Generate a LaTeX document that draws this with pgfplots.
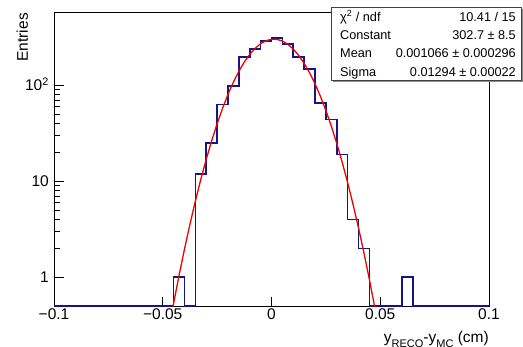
\documentclass[border=0pt]{standalone}
\usepackage{pgfplots}
\pgfplotsset{compat=1.18}
\usepackage{fontspec}
\setmainfont{Liberation Sans}
\definecolor{histblue}{RGB}{20,20,135}
\definecolor{fitred}{RGB}{240,0,0}
\newcommand\sub[1]{\raisebox{-5.5pt}{\fontsize{11}{11}\selectfont #1}}
\begin{document}
\begin{tikzpicture}[x=1pt,y=1pt]
\useasboundingbox (0,0) rectangle (523,346);
\clip (0,0) rectangle (523,346);
\begin{axis}[
  at={(54pt,39.3pt)}, anchor=south west, scale only axis,
  width=435pt, height=294.7pt,
  xmin=-0.1, xmax=0.1, ymode=log, ymin=0.494, ymax=580,
  xtick={-0.1,-0.05,0,0.05,0.1},
  xticklabels={−0.1,−0.05,0,0.05,0.1},
  ytick={1,10,100},
  yticklabels={1,10,{10\textsuperscript{2}}},
  minor x tick num=0,
  tick align=inside, xtick pos=bottom, ytick pos=left,
  major tick length=10pt, minor tick length=5.5pt,
  axis line style={line width=1pt},
  tick style={black, line width=0.8pt},
  ticklabel style={font=\fontsize{15.5}{15.5}\selectfont},
  xticklabel style={anchor=north, inner sep=0pt, yshift=-2pt},
  yticklabel style={anchor=base east, inner sep=0pt, xshift=-5pt, yshift=-5.5pt},
]
\addplot[const plot mark left, histblue, line width=1.7pt] coordinates {
  (-0.100,0.5) (-0.045,1) (-0.040,0.5) (-0.035,12) (-0.030,25) (-0.025,63)
  (-0.020,98) (-0.015,196) (-0.010,239) (-0.005,289) (0.000,309) (0.005,269)
  (0.010,198) (0.015,147) (0.020,65) (0.025,44) (0.030,19) (0.035,4)
  (0.040,2) (0.045,0.5) (0.060,1) (0.065,0.5) (0.100,0.5)
};
\addplot[fitred, line width=1.3pt] coordinates {
  (-0.05,0.1257) (-0.0475,0.2643) (-0.045,0.5357) (-0.0425,1.046) (-0.04,1.967)
  (-0.0375,3.566) (-0.035,6.224) (-0.0325,10.47) (-0.03,16.96) (-0.0275,26.47)
  (-0.025,39.80) (-0.0225,57.65) (-0.02,80.44) (-0.0175,108.14) (-0.015,140.04)
  (-0.0125,174.72) (-0.01,209.99) (-0.0075,243.14) (-0.005,271.2) (-0.0025,291.42)
  (0,301.67) (0.0025,300.85) (0.005,289.03) (0.0075,267.50) (0.01,238.51)
  (0.0125,204.87) (0.015,169.52) (0.0175,135.13) (0.02,103.78) (0.0225,76.77)
  (0.025,54.71) (0.0275,37.57) (0.03,24.85) (0.0325,15.83) (0.035,9.72)
  (0.0375,5.75) (0.04,3.275) (0.0425,1.797) (0.045,0.950) (0.0475,0.484) (0.05,0.2375)
};
\end{axis}
\node[rotate=90, anchor=base east, inner sep=0pt, font=\fontsize{15.5}{15.5}\selectfont] at (28,333) {Entries};
\node[anchor=base east, inner sep=0pt, font=\fontsize{15.5}{15.5}\selectfont] at (489,4) {y\sub{RECO}-y\sub{MC} (cm)};
% stats box
\fill[black!45] (333.4,264.3) rectangle (523.4,337);
\draw[fill=white, draw=black!75, line width=0.8pt] (331.7,266) rectangle (521.7,338.7);
\begin{scope}[every node/.style={inner sep=0pt, font=\fontsize{12.7}{12.7}\selectfont}]
\node[anchor=base west] at (340,324.8) {χ\textsuperscript{2} / ndf};
\node[anchor=base east] at (516,324.8) {10.41 / 15};
\node[anchor=base west] at (340,306.5) {Constant};
\node[anchor=base east] at (516,306.5) {302.7 ± 8.5};
\node[anchor=base west] at (340,288.2) {Mean};
\node[anchor=base east] at (516,288.2) {0.001066 ± 0.000296};
\node[anchor=base west] at (340,269.9) {Sigma};
\node[anchor=base east] at (516,269.9) {0.01294 ± 0.00022};
\end{scope}
\end{tikzpicture}
\end{document}
